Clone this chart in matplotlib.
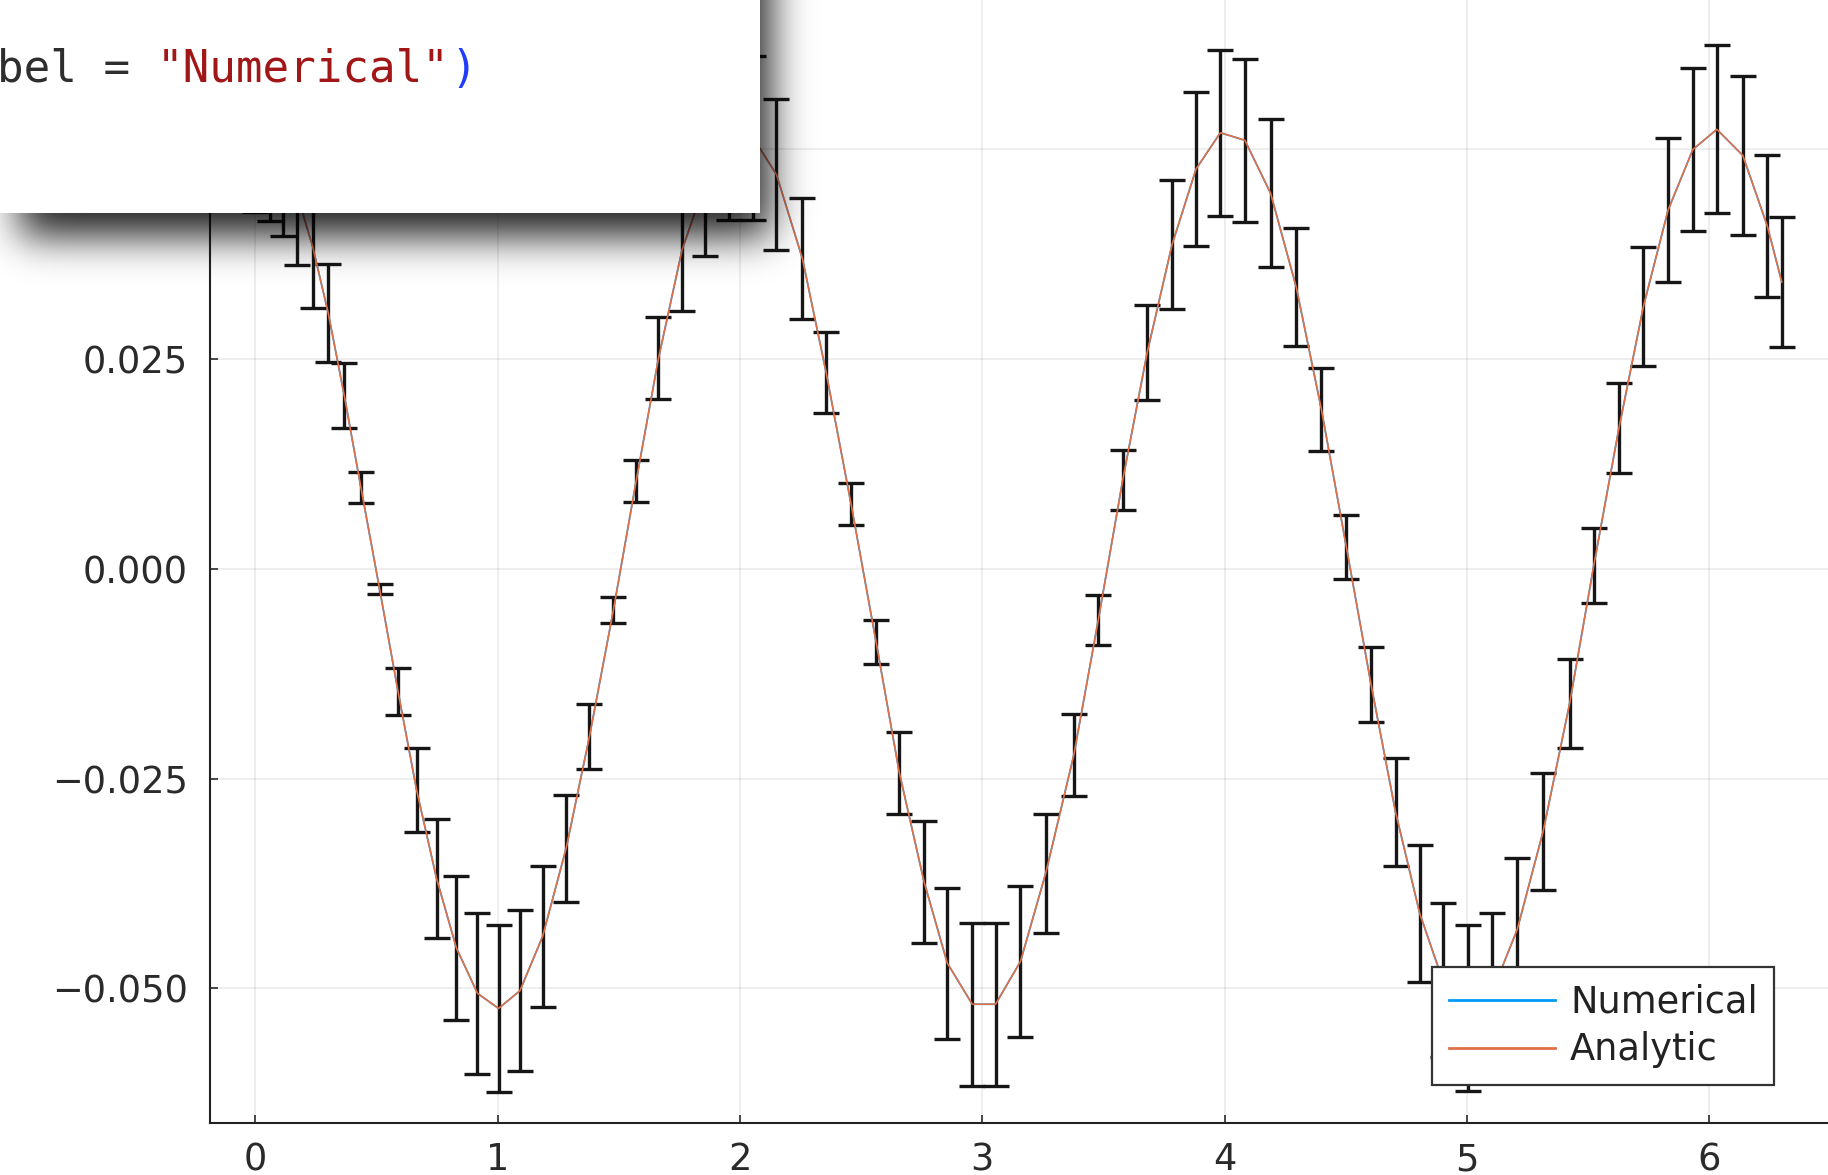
import math
import numpy as np
import matplotlib
matplotlib.use("Agg")
import matplotlib.pyplot as plt
from matplotlib.patches import Rectangle

# ---------------- data ----------------
x_vals = [0.000, 0.060, 0.115, 0.172, 0.237, 0.301, 0.367, 0.436, 0.513, 0.589,
          0.666, 0.748, 0.830, 0.917, 1.004, 1.092, 1.186, 1.283, 1.379, 1.478,
          1.572, 1.664, 1.761, 1.857, 1.955, 2.055, 2.151, 2.258, 2.356, 2.459,
          2.562, 2.658, 2.760, 2.856, 2.959, 3.055, 3.158, 3.262, 3.378, 3.479,
          3.580, 3.681, 3.784, 3.883, 3.983, 4.084, 4.190, 4.296, 4.400, 4.503,
          4.605, 4.706, 4.806, 4.900, 5.004, 5.104, 5.208, 5.315, 5.424, 5.524,
          5.628, 5.729, 5.831, 5.933, 6.032, 6.139, 6.240, 6.300]

y_numerical = [0.0526, 0.0513, 0.0490, 0.0447, 0.0384, 0.0305, 0.0207, 0.0097, -0.0024, -0.0146,
               -0.0264, -0.0369, -0.0452, -0.0506, -0.0524, -0.0503, -0.0438, -0.0333, -0.0200, -0.0049,
               0.0105, 0.0251, 0.0380, 0.0461, 0.0514, 0.0514, 0.0470, 0.0370, 0.0234, 0.0077,
               -0.0087, -0.0243, -0.0373, -0.0470, -0.0519, -0.0519, -0.0468, -0.0363, -0.0222, -0.0061,
               0.0106, 0.0258, 0.0387, 0.0477, 0.0520, 0.0511, 0.0448, 0.0336, 0.0190, 0.0026,
               -0.0138, -0.0290, -0.0411, -0.0490, -0.0523, -0.0505, -0.0430, -0.0313, -0.0161, 0.0004,
               0.0168, 0.0313, 0.0428, 0.0500, 0.0524, 0.0493, 0.0409, 0.0342]

y_error = [0.0100, 0.0098, 0.0093, 0.0085, 0.0073, 0.0058, 0.0039, 0.0019, 0.0006, 0.0028,
           0.0050, 0.0071, 0.0086, 0.0096, 0.0100, 0.0096, 0.0084, 0.0064, 0.0039, 0.0015,
           0.0025, 0.0049, 0.0073, 0.0088, 0.0098, 0.0098, 0.0090, 0.0072, 0.0048, 0.0025,
           0.0026, 0.0049, 0.0073, 0.0090, 0.0097, 0.0097, 0.0090, 0.0071, 0.0049, 0.0030,
           0.0036, 0.0057, 0.0077, 0.0092, 0.0099, 0.0097, 0.0088, 0.0070, 0.0050, 0.0038,
           0.0045, 0.0064, 0.0082, 0.0092, 0.0099, 0.0095, 0.0085, 0.0070, 0.0053, 0.0045,
           0.0054, 0.0071, 0.0086, 0.0097, 0.0100, 0.0095, 0.0085, 0.0077]

y_analytic = [0.0526, 0.0513, 0.0490, 0.0447, 0.0384, 0.0305, 0.0207, 0.0097, -0.0024, -0.0146,
              -0.0264, -0.0369, -0.0452, -0.0506, -0.0524, -0.0503, -0.0438, -0.0333, -0.0200, -0.0049,
              0.0105, 0.0251, 0.0380, 0.0461, 0.0514, 0.0514, 0.0470, 0.0370, 0.0234, 0.0077,
              -0.0087, -0.0243, -0.0373, -0.0470, -0.0519, -0.0519, -0.0468, -0.0363, -0.0222, -0.0061,
              0.0106, 0.0258, 0.0387, 0.0477, 0.0520, 0.0511, 0.0448, 0.0336, 0.0190, 0.0026,
              -0.0138, -0.0290, -0.0411, -0.0490, -0.0523, -0.0505, -0.0430, -0.0313, -0.0161, 0.0004,
              0.0168, 0.0313, 0.0428, 0.0500, 0.0524, 0.0493, 0.0409, 0.0342]

series_labels = ["Numerical", "Analytic"]
x_ticks = [0, 1, 2, 3, 4, 5, 6]
y_ticks = [-0.050, -0.025, 0.000, 0.025, 0.050]
code_parts = [('bel = ', '#2e2e2e'), ('"Numerical"', '#a11717'), (')', '#1f3dff')]

# ---------------- figure ----------------
W, H = 1828, 1175
DPI = 100
fig = plt.figure(figsize=(W / DPI, H / DPI), dpi=DPI)
fig.patch.set_facecolor('white')

# axes extends past the right and top edge of the picture (cropped screenshot)
ax_left_px, ax_bottom_px, ax_right_px, ax_top_px = 210, 1123, 1900, -20
ax = fig.add_axes([ax_left_px / W, (H - ax_bottom_px) / H,
                   (ax_right_px - ax_left_px) / W, (ax_bottom_px - ax_top_px) / H])

x0_px, x_scale = 255.3, 242.3       # pixel of x=0 and pixels per unit
y0_px, y_scale = 568.9, 8388.0      # pixel row of y=0 and pixels per unit
ax.set_xlim((ax_left_px - x0_px) / x_scale, (ax_right_px - x0_px) / x_scale)
ax.set_ylim((y0_px - ax_bottom_px) / y_scale, (y0_px - ax_top_px) / y_scale)

ax.plot(x_vals, y_numerical, color='#009af9', lw=1.2, label=series_labels[0], zorder=2)
ax.errorbar(x_vals, y_numerical, yerr=y_error, fmt='none', ecolor='#161616',
            elinewidth=2.4, capsize=9.5, capthick=2.4, zorder=3)
ax.plot(x_vals, y_analytic, color='#e26f46', lw=1.2, label=series_labels[1], zorder=4)

ax.set_xticks(x_ticks)
ax.set_yticks(y_ticks)
ax.set_yticklabels([f"{v:.3f}".replace('-', '\u2212') for v in y_ticks])
ax.tick_params(direction='in', length=6, width=1.2, colors='#2a2a2a',
               labelsize=26.5, labelcolor='#2a2a2a')
ax.tick_params(axis='x', pad=13)
ax.tick_params(axis='y', pad=16)
ax.grid(True, color='#000000', alpha=0.08, lw=1.2)
for side in ('top', 'right'):
    ax.spines[side].set_visible(False)
for side in ('left', 'bottom'):
    ax.spines[side].set_linewidth(1.5)
    ax.spines[side].set_color('#222222')

leg = ax.legend(loc='lower left', bbox_to_anchor=(1432 / W, (H - 1085) / H),
                bbox_transform=fig.transFigure, borderaxespad=0, fontsize=26.5,
                frameon=True, fancybox=False, framealpha=1, edgecolor='#333333',
                handlelength=2.9, handletextpad=0.4, labelspacing=0.3,
                borderpad=0.45)
leg.get_frame().set_linewidth(1.6)
for t in leg.get_texts():
    t.set_color('#222222')
for ln in leg.get_lines():
    ln.set_linewidth(2.0)

# ---------------- popup overlay (code tooltip) ----------------
ov = fig.add_axes([0, 0, 1, 1], zorder=10)
ov.set_xlim(0, W)
ov.set_ylim(H, 0)
ov.axis('off')
ov.patch.set_alpha(0)

erf = np.vectorize(math.erf)
xs = np.arange(W) + 0.5
ys = np.arange(H) + 0.5
sig = 20.0 * math.sqrt(2)
sx0, sx1, sy0, sy1 = 20, 770, -200, 236
shx = 0.5 * (erf((sx1 - xs) / sig) - erf((sx0 - xs) / sig))
shy = 0.5 * (erf((sy1 - ys) / sig) - erf((sy0 - ys) / sig))
rgba = np.zeros((H, W, 4))
rgba[..., 3] = 0.88 * np.outer(shy, shx)
ov.imshow(rgba, extent=(0, W, H, 0), origin='upper', interpolation='bilinear', zorder=1)

ov.add_patch(Rectangle((-50, -50), 760 + 50, 213 + 50, facecolor='white',
                       edgecolor='none', zorder=2))

fs = 31.9
char_w = 0.602 * fs * DPI / 72.0
xpos = -3.0
for txt, col in code_parts:
    ov.text(xpos, 82, txt, fontsize=fs, family='DejaVu Sans Mono', color=col,
            ha='left', va='baseline', zorder=3)
    xpos += len(txt) * char_w

fig.savefig('out.png', dpi=DPI)
